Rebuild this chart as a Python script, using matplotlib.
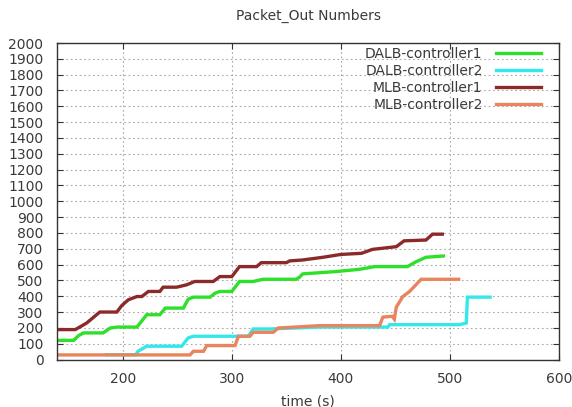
import numpy as np
import matplotlib
matplotlib.use('Agg')
import matplotlib.pyplot as plt

# series (time in s, packet_out count)
dalb1_t = [140, 155, 159.5, 164, 182, 188.5, 195, 213, 222, 234, 239, 255.6, 260, 264.7,
           280, 284.6, 289, 300, 307, 319.6, 328.7, 359, 362, 365, 396, 417, 431, 461,
           469, 478, 494]
dalb1_v = [121, 121, 151, 168, 168, 199, 205, 205, 283, 283, 325, 325, 381, 394,
           394, 419, 430, 430, 493, 493, 507, 507, 520, 541, 556, 570, 587, 587,
           618, 646, 654]

dalb2_t = [185, 212, 214, 222, 254, 260, 264.7, 315, 319.6, 335, 380.6, 443, 444.7,
           508.7, 515, 516, 536.8]
dalb2_v = [30, 30, 52, 84, 84, 136, 147, 147, 193, 193, 205, 205, 220,
           220, 230, 394, 394]

mlb1_t = [140, 156.5, 167, 176, 179, 194.6, 199, 205, 213, 217.5, 223.5, 234, 237, 249.5,
          258.6, 266, 283, 289, 300, 307, 322.7, 327, 350, 353, 365, 383.6, 400, 418.8,
          429, 450.8, 458, 478, 484, 493]
mlb1_v = [189, 189, 231, 283, 300, 300, 340, 377, 398, 398, 430, 430, 457, 457,
          472, 493, 493, 524, 524, 587, 587, 612, 612, 623, 629, 646, 664, 671,
          696, 713, 750, 755, 792, 792]

mlb2_t = [140, 261.7, 264.7, 274, 277, 303, 306, 316.6, 319.6, 338, 342.5, 380.6, 435.5,
          438.5, 447, 449, 450.8, 456.8, 463, 473.6, 508]
mlb2_v = [29, 29, 52, 52, 88, 88, 147, 147, 172, 172, 199, 214, 214,
          268, 273, 255, 331, 398, 430, 507, 507]

series = [
    ('DALB-controller1', dalb1_t, dalb1_v, '#2ee02a'),
    ('DALB-controller2', dalb2_t, dalb2_v, '#33e8ea'),
    ('MLB-controller1', mlb1_t, mlb1_v, '#8c2a2a'),
    ('MLB-controller2', mlb2_t, mlb2_v, '#e8855e'),
]

plt.rcParams['font.family'] = ['DejaVu Sans']
text_col = '#3a3a3a'
fs = 10

fig = plt.figure(figsize=(5.72, 4.07), dpi=100)
ax = fig.add_axes([0.1002, 0.1167, 0.8771, 0.7776])

for label, t, v, col in series:
    ax.plot(t, v, color=col, lw=2.4, label=label, solid_joinstyle='miter')

ax.set_xlim(140, 600)
ax.set_ylim(0, 2000)
ax.set_xticks([200, 300, 400, 500, 600])
ax.set_yticks(np.arange(0, 2001, 100))
ax.grid(True, color='#a8a8a8', linestyle=(0, (1.5, 2.5)), linewidth=0.8)
ax.tick_params(direction='in', length=4, width=0.8, top=True, right=True,
               labelsize=fs, labelcolor=text_col, color='#333333')
ax.tick_params(axis='y', pad=10)
ax.tick_params(axis='x', pad=9)
for sp in ax.spines.values():
    sp.set_color('#333333')
    sp.set_linewidth(1.0)

ax.set_title('Packet_Out Numbers', fontsize=fs, color=text_col, pad=17)
ax.set_xlabel('time (s)', fontsize=fs, color=text_col, labelpad=6)

leg = ax.legend(loc='upper right', bbox_to_anchor=(0.975, 1.005), frameon=False,
                markerfirst=False, fontsize=fs, handlelength=3.2,
                labelspacing=0.22, handletextpad=1.0, borderaxespad=0.0)
for txt in leg.get_texts():
    txt.set_color(text_col)
    txt.set_ha('right')

fig.savefig('out.png', dpi=100)
